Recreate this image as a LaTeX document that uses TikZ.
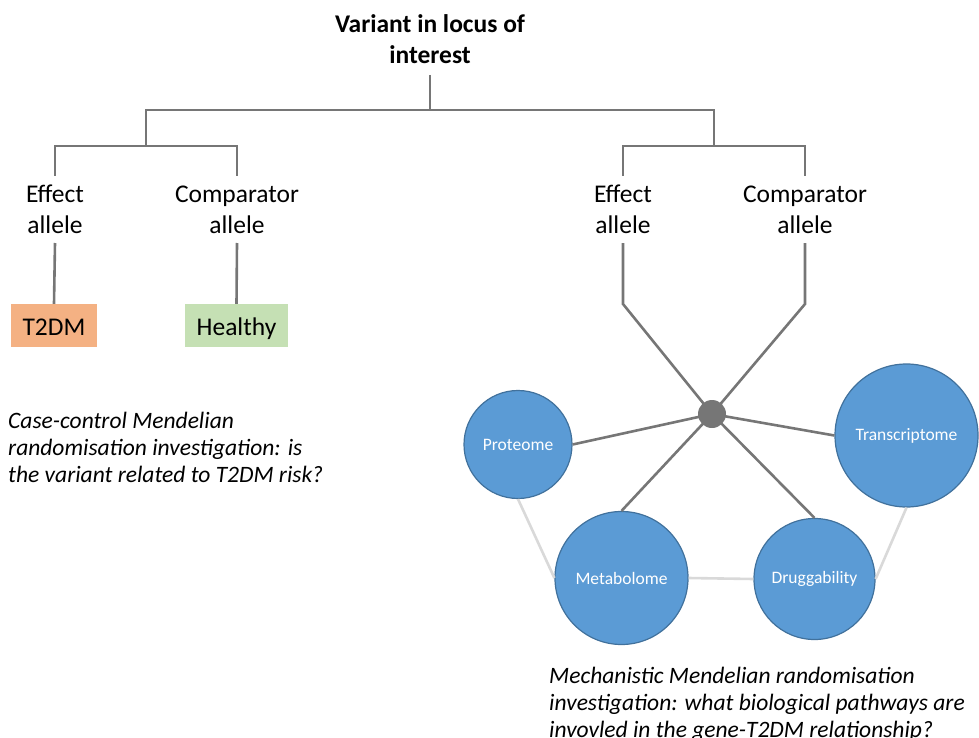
\documentclass[tikz,border=0pt]{standalone}
\usepackage{fontspec}
\setmainfont{Carlito}
\definecolor{linegray}{HTML}{767676}
\definecolor{lightline}{HTML}{D9D9D9}
\definecolor{bluefill}{HTML}{5B9BD5}
\definecolor{blueedge}{HTML}{41719C}
\definecolor{orangefill}{HTML}{F4B183}
\definecolor{greenfill}{HTML}{C5E0B4}
\begin{document}
\begin{tikzpicture}[x=1pt,y=-1pt,
  tree/.style={draw=linegray,line width=2.6pt},
  light/.style={draw=lightline,line width=2.6pt},
  lbl/.style={align=center,inner sep=0pt,font=\fontsize{25.5}{31}\selectfont},
  outbox/.style={minimum height=43pt,inner sep=0pt,text height=21pt,text depth=2pt,font=\fontsize{25.5}{31}\selectfont},
  omic/.style={circle,fill=bluefill,draw=blueedge,line width=1.2pt,text=white,inner sep=0pt,font=\fontsize{17.5}{20}\selectfont},
  note/.style={align=left,inner sep=0pt,anchor=north west,font=\fontsize{23.5}{27}\selectfont\itshape}]
\useasboundingbox (0,0) rectangle (979,738);
% title
\node[lbl,font=\fontsize{25.5}{31}\selectfont\bfseries] (title) at (430,39) {Variant in locus of\\interest};
\coordinate (tb) at (430,75);
\coordinate (tm) at (430,110);
\coordinate (l1) at (146,110);
\coordinate (r1) at (714,110);
\coordinate (l2) at (146,146);
\coordinate (r2) at (714,146);
\draw[tree] (tb) -- (tm);
\draw[tree] (l2) -- (l1) -- (r1) -- (r2);
% left bracket
\coordinate (la) at (55,146);
\coordinate (lb) at (237,146);
\coordinate (lat) at (55,176);
\coordinate (lbt) at (237,176);
\draw[tree] (lat) -- (la) -- (lb) -- (lbt);
% right bracket
\coordinate (ra) at (623,146);
\coordinate (rb) at (805,146);
\coordinate (rat) at (623,176);
\coordinate (rbt) at (805,176);
\draw[tree] (rat) -- (ra) -- (rb) -- (rbt);
% allele labels
\node[lbl] (leff) at (55,209.5) {Effect\\allele};
\node[lbl] (lcomp) at (237,209.5) {Comparator\\allele};
\node[lbl] (reff) at (623,209.5) {Effect\\allele};
\node[lbl] (rcomp) at (805,209.5) {Comparator\\allele};
% outcome boxes
\node[outbox,fill=orangefill,minimum width=86pt] (t2dm) at (54,325.5) {T2DM};
\node[outbox,fill=greenfill,minimum width=103pt] (healthy) at (236.5,325.5) {Healthy};
\coordinate (lx) at (55,243);
\coordinate (cx) at (237,243);
\draw[tree] (lx) -- (t2dm.north);
\draw[tree] (cx) -- (healthy.north);
% hub
\coordinate (hubc) at (712,414);
\coordinate (rx) at (623,243);
\coordinate (ry) at (623,304);
\coordinate (sx) at (805,243);
\coordinate (sy) at (805,304);
\draw[tree] (rx) -- (ry) -- (hubc);
\draw[tree] (sx) -- (sy) -- (hubc);
% omic circles
\node[omic,minimum size=108pt] (prot) at (518,444.5) {Proteome};
\node[omic,minimum size=143pt] (trans) at (906.5,435.5) {Transcriptome};
\node[omic,minimum size=133pt] (meta) at (621.5,578) {Metabolome};
\node[omic,minimum size=121pt] (drug) at (814.5,579) {Druggability};
% light links
\draw[light] (prot.south) -- (meta.west);
\draw[light] (meta.east) -- (drug.west);
\draw[light] (drug.east) -- (trans.south);
% hub links
\draw[tree] (hubc) -- (prot.east);
\draw[tree] (hubc) -- (trans.west);
\draw[tree] (hubc) -- (meta.north);
\draw[tree] (hubc) -- (drug.north);
\node[circle,fill=linegray,minimum size=28pt,inner sep=0pt] (hub) at (hubc) {};
% notes
\node[note] (lnote) at (8,412) {Case-control Mendelian\\randomisation investigation: is\\the variant related to T2DM risk?};
\node[note] (rnote) at (549,667) {Mechanistic Mendelian randomisation\\investigation: what biological pathways are\\invovled in the gene-T2DM relationship?};
\end{tikzpicture}
\end{document}
